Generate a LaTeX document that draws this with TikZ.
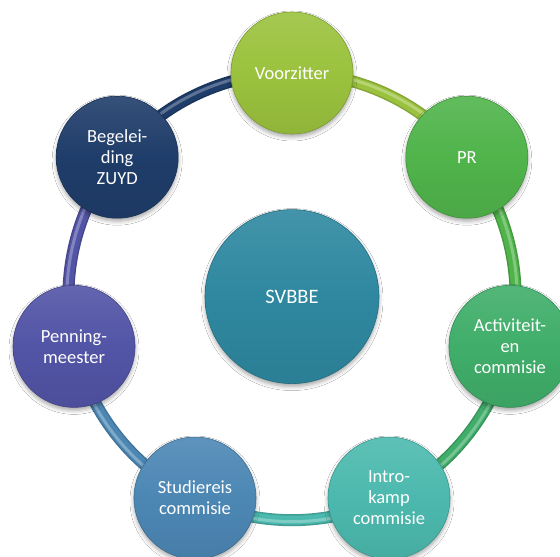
\documentclass[tikz,border=0pt]{standalone}
\usepackage{fontspec}
\setmainfont{Carlito}
\usetikzlibrary{shadows.blur}
\definecolor{cV}{RGB}{155,194,62}
\definecolor{cP}{RGB}{80,180,75}
\definecolor{cA}{RGB}{64,174,106}
\definecolor{cI}{RGB}{76,185,174}
\definecolor{cS}{RGB}{76,135,180}
\definecolor{cM}{RGB}{82,84,166}
\definecolor{cB}{RGB}{31,61,106}
\definecolor{cC}{RGB}{46,136,160}
\tikzset{
  bubble/.style={circle, minimum size=122pt, inner sep=0pt, text=white, align=center,
    font=\fontsize{18.5}{21}\selectfont,
    blur shadow={shadow xshift=0pt, shadow yshift=-3pt, shadow blur radius=4pt, shadow opacity=35},
    draw=#1!80!black, line width=0.6pt,
    top color=#1!90!white, bottom color=#1!93!black, middle color=#1},
  linkouter/.style={line width=12pt, draw=#1!85!black},
  linkinner/.style={line width=9pt, draw=#1},
  linkhi/.style={line width=3pt, draw=#1!72!white},
}
\newcommand{\ringarc}[3]{%
  \draw[linkouter=#3] (#1) arc[start angle=#2, end angle=#2-51.4286, radius=223.6];
  \draw[linkinner=#3] (#1) arc[start angle=#2, end angle=#2-51.4286, radius=223.6];
  \draw[linkhi=#3] (#1) ++(#2:1.5) arc[start angle=#2, end angle=#2-51.4286, radius=225.1];
}
\begin{document}
\begin{tikzpicture}[x=1pt,y=1pt]
\fill[white] (0,0) rectangle (560,557);
\useasboundingbox (0,0) rectangle (560,557);
\coordinate (c) at (292,260.4);
\path (c) ++(90:223.6) coordinate (pv);
\path (c) ++(38.5714:223.6) coordinate (pp);
\path (c) ++(-12.8571:223.6) coordinate (pa);
\path (c) ++(-64.2857:223.6) coordinate (pi);
\path (c) ++(-115.7143:223.6) coordinate (ps);
\path (c) ++(-167.1429:223.6) coordinate (pm);
\path (c) ++(141.4286:223.6) coordinate (pb);
\ringarc{pv}{90}{cV}
\ringarc{pp}{38.5714}{cP}
\ringarc{pa}{-12.8571}{cA}
\ringarc{pi}{-64.2857}{cI}
\ringarc{ps}{-115.7143}{cS}
\ringarc{pm}{-167.1429}{cM}
\ringarc{pb}{141.4286}{cB}
\node[bubble=cV] (voorzitter) at (pv) {Voorzitter};
\node[bubble=cP] (pr) at (pp) {PR};
\node[bubble=cA] (act) at (pa) {Activiteit-\\en\\commisie};
\node[bubble=cI] (intro) at (pi) {Intro-\\kamp\\commisie};
\node[bubble=cS] (studie) at (ps) {Studiereis\\commisie};
\node[bubble=cM] (penning) at (pm) {Penning-\\meester};
\node[bubble=cB] (begel) at (pb) {Begelei-\\ding\\ZUYD};
\node[bubble=cC, minimum size=174pt, font=\fontsize{20.5}{24}\selectfont] (svbbe) at (c) {SVBBE};
\end{tikzpicture}
\end{document}
